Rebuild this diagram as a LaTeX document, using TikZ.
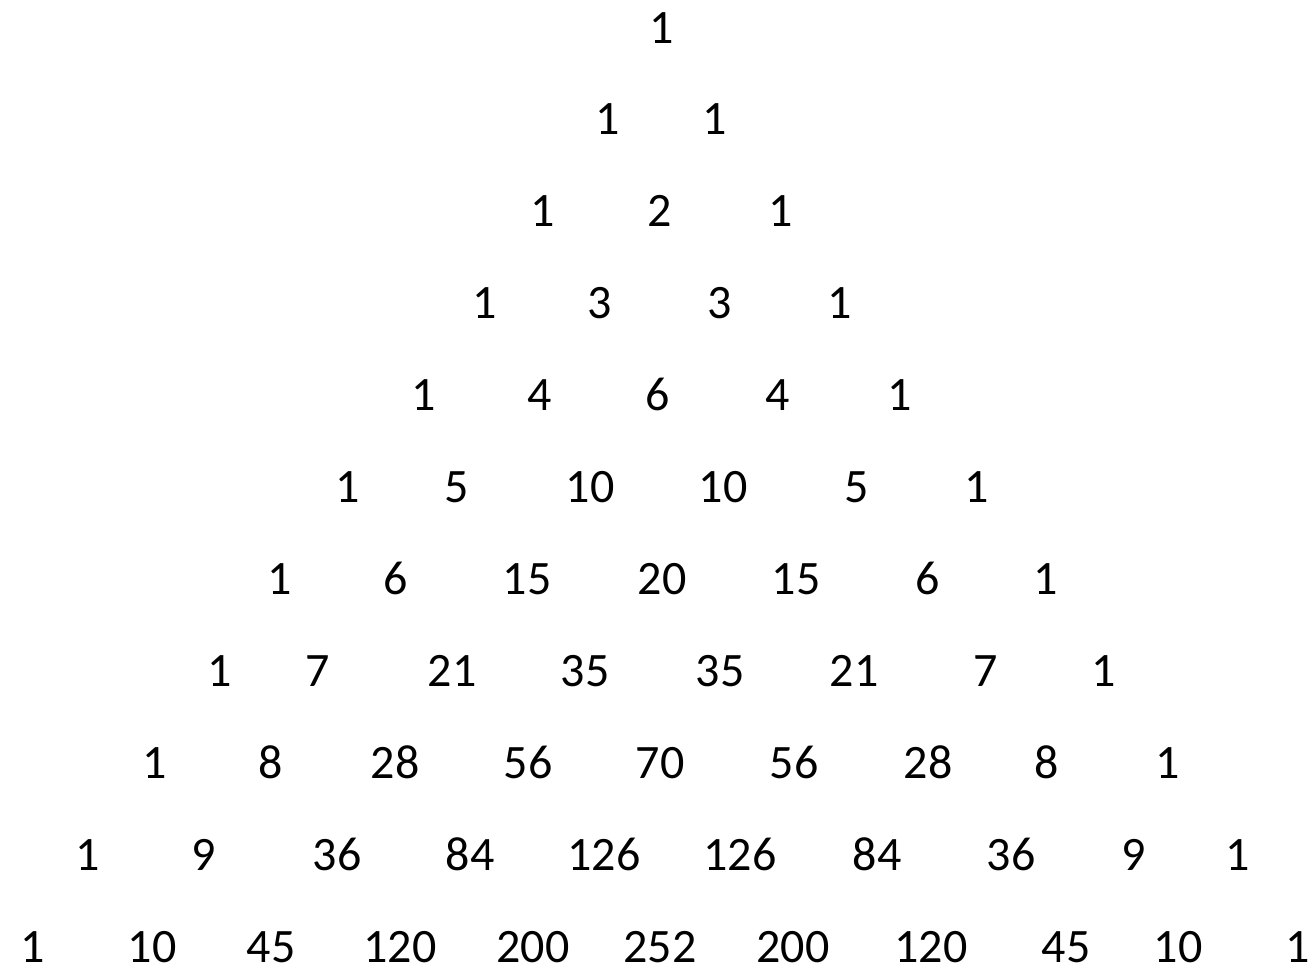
\documentclass[tikz,border=0pt]{standalone}
\usepackage{fontspec}
\setmainfont{Carlito}
\newcommand\prow[2]{%
  \pgfmathsetmacro\yb{43+91.9*#1}%
  \foreach \x/\t [count=\c] in {#2} {\node[num] (r#1c\c) at (\x,\yb) {\t};}%
}
\begin{document}
\begin{tikzpicture}[x=1pt,y=-1pt,
  num/.style={anchor=base,inner sep=0pt,font=\fontsize{48}{56}\selectfont,text=black}]
\useasboundingbox[fill=white] (0,0) rectangle (1314,967);
\prow{0}{662/1}
\prow{1}{608/1,715/1}
\prow{2}{543/1,660/2,781/1}
\prow{3}{485/1,600/3,720/3,840/1}
\prow{4}{424/1,540/4,658/6,778/4,900/1}
\prow{5}{348/1,457/5,590/10,723/10,857/5,977/1}
\prow{6}{280/1,396/6,527/15,662/20,796/15,928/6,1046/1}
\prow{7}{220/1,318/7,452/21,585/35,720/35,854/21,986/7,1104/1}
\prow{8}{155/1,271/8,395/28,528/56,660/70,794/56,928/28,1047/8,1168/1}
\prow{9}{88/1,204/9,337/36,470/84,604/126,740/126,877/84,1011/36,1134/9,1238/1}
\prow{10}{33/1,152/10,271/45,400/120,533/200,660/252,793/200,931/120,1066/45,1178/10,1298/1}
\end{tikzpicture}
\end{document}
